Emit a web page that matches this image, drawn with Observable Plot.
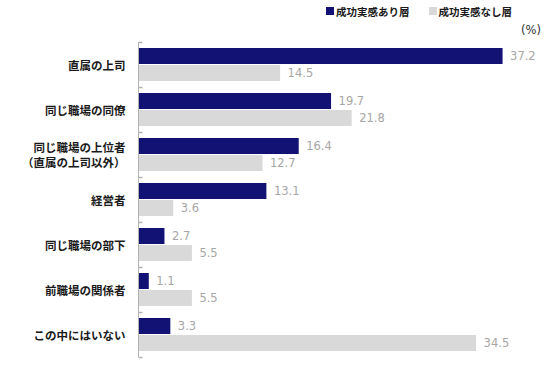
<!DOCTYPE html>
<html>
<head>
<meta charset="utf-8">
<script src="https://cdn.jsdelivr.net/npm/d3@7"></script>
<script src="https://cdn.jsdelivr.net/npm/@observablehq/plot@0.6"></script>
<style>
  body { margin: 0; background: #fff; font-family: "Noto Sans CJK JP", sans-serif; }
  #wrap { width: 550px; }
  .legend { height: 22px; display: flex; justify-content: flex-end; align-items: center; padding-right: 38px; font-family: "Noto Sans CJK JP", sans-serif; font-size: 10.5px; font-weight: bold; color: #1a1a1a; }
  .legend .item { display: flex; align-items: center; margin-left: 19px; }
  .legend .sw { width: 8px; height: 8px; margin-right: 2px; display: inline-block; }
  .unit { height: 16px; text-align: right; padding-right: 9px; font-size: 11.5px; color: #333; font-family: "DejaVu Sans", sans-serif; line-height: 16px; }
</style>
</head>
<body>
<div id="wrap">
  <div class="legend" id="legend"></div>
  <div class="unit">(%)</div>
  <div id="chart"></div>
</div>
<script>
const categories = [
  "直属の上司",
  "同じ職場の同僚",
  "同じ職場の上位者\n（直属の上司以外）",
  "経営者",
  "同じ職場の部下",
  "前職場の関係者",
  "この中にはいない"
];
const seriesNames = ["成功実感あり層", "成功実感なし層"];
const valuesYes = [37.2, 19.7, 16.4, 13.1, 2.7, 1.1, 3.3];
const valuesNo = [14.5, 21.8, 12.7, 3.6, 5.5, 5.5, 34.5];
const seriesColors = ["#121275", "#d9d9d9"];

const rows = [];
categories.forEach((c, i) => {
  rows.push({category: c, series: seriesNames[0], value: valuesYes[i]});
  rows.push({category: c, series: seriesNames[1], value: valuesNo[i]});
});

// legend
const legend = document.getElementById("legend");
seriesNames.forEach((s, i) => {
  const item = document.createElement("span");
  item.className = "item";
  const sw = document.createElement("span");
  sw.className = "sw";
  sw.style.background = seriesColors[i];
  item.appendChild(sw);
  item.appendChild(document.createTextNode(s));
  legend.appendChild(item);
});

const tickSymbol = {
  draw(context, size) {
    const r = Math.sqrt(size / Math.PI);
    context.moveTo(0, 0);
    context.lineTo(r, 0);
  }
};

const chart = Plot.plot({
  width: 550,
  height: 332,
  marginTop: 4,
  marginBottom: 13,
  marginLeft: 138,
  marginRight: 20,
  style: {fontFamily: "Noto Sans CJK JP, sans-serif", background: "#fff"},
  x: {domain: [0, 40], axis: null},
  y: {domain: seriesNames, paddingInner: 0.06, paddingOuter: 0.32, axis: null},
  fy: {domain: categories, padding: 0, label: null},
  color: {domain: seriesNames, range: seriesColors},
  marks: [
    Plot.axisFy({anchor: "left", label: null, tickSize: 0, tickPadding: 13,
      fontSize: 11.5, fontWeight: "bold", fill: "#1a1a1a", lineHeight: 1.25}),
    Plot.barX(rows, {fy: "category", y: "series", x: "value", fill: "series"}),
    Plot.text(rows, {fy: "category", y: "series", x: "value", text: d => d.value.toFixed(1),
      textAnchor: "start", dx: 7, fill: "#a6a6a6", fontSize: 11.5, fontFamily: "DejaVu Sans, sans-serif"}),
    Plot.ruleX([0], {stroke: "#b3b3b3"}),
    Plot.dot(categories, {fy: d => d, frameAnchor: "top-left", symbol: tickSymbol, r: 4, fill: "none", stroke: "#b3b3b3"}),
    Plot.dot(categories.slice(-1), {fy: d => d, frameAnchor: "bottom-left", symbol: tickSymbol, r: 4, fill: "none", stroke: "#b3b3b3"})
  ]
});
document.getElementById("chart").appendChild(chart);
</script>
</body>
</html>
